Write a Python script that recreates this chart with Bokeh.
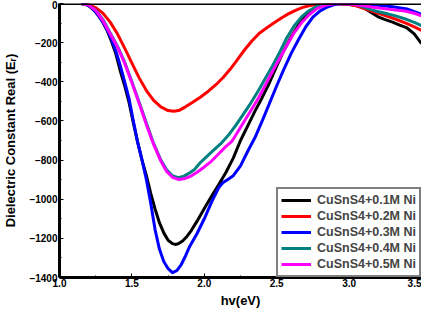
from bokeh.plotting import figure
from bokeh.models import Range1d, Span, Legend, LegendItem, SingleIntervalTicker, NumeralTickFormatter
from bokeh.embed import file_html
from bokeh.resources import INLINE

labels = ["CuSnS4+0.1M Ni", "CuSnS4+0.2M Ni", "CuSnS4+0.3M Ni", "CuSnS4+0.4M Ni", "CuSnS4+0.5M Ni"]
colors = ["#000000", "#ff0000", "#0000ff", "#008080", "#ff00ff"]

x_01 = [1.15, 1.18, 1.21, 1.24, 1.27, 1.30, 1.33, 1.36, 1.39, 1.42, 1.45, 1.48, 1.51, 1.54, 1.57, 1.60, 1.63, 1.66, 1.69, 1.72, 1.75, 1.78, 1.80, 1.82, 1.85, 1.88, 1.91, 1.95, 2.00, 2.05, 2.10, 2.15, 2.20, 2.25, 2.30, 2.35, 2.40, 2.45, 2.50, 2.55, 2.60, 2.65, 2.70, 2.75, 2.80, 2.85, 2.92, 2.98, 3.05, 3.10, 3.15, 3.20, 3.25, 3.30, 3.35, 3.40, 3.45, 3.50]
y_01 = [0, -4, -16, -36, -63, -97, -140, -195, -260, -345, -420, -505, -610, -710, -800, -880, -970, -1050, -1120, -1172, -1210, -1227, -1231, -1228, -1214, -1190, -1160, -1112, -1048, -985, -925, -862, -790, -700, -625, -550, -480, -405, -320, -240, -170, -110, -62, -30, -12, -3, 0, -2, -10, -22, -45, -68, -82, -95, -110, -125, -155, -205]

x_02 = [1.15, 1.20, 1.25, 1.30, 1.35, 1.40, 1.45, 1.50, 1.55, 1.60, 1.65, 1.70, 1.75, 1.79, 1.83, 1.87, 1.92, 1.97, 2.03, 2.08, 2.13, 2.18, 2.23, 2.28, 2.33, 2.38, 2.43, 2.48, 2.53, 2.58, 2.63, 2.68, 2.73, 2.80, 2.90, 3.00, 3.05, 3.10, 3.18, 3.25, 3.32, 3.40, 3.45, 3.50]
y_02 = [0, -5, -22, -50, -95, -155, -228, -305, -380, -445, -495, -528, -547, -551, -545, -528, -505, -480, -447, -415, -378, -335, -285, -235, -190, -152, -125, -100, -75, -53, -35, -20, -10, -3, 0, -5, -12, -25, -45, -62, -80, -103, -120, -137]

x_03 = [1.15, 1.18, 1.21, 1.24, 1.27, 1.30, 1.33, 1.36, 1.39, 1.42, 1.45, 1.48, 1.51, 1.54, 1.57, 1.60, 1.63, 1.66, 1.69, 1.72, 1.75, 1.78, 1.81, 1.84, 1.87, 1.90, 1.95, 2.00, 2.05, 2.10, 2.13, 2.16, 2.20, 2.25, 2.30, 2.35, 2.40, 2.45, 2.50, 2.55, 2.60, 2.65, 2.70, 2.75, 2.80, 2.85, 2.90, 2.95, 3.00, 3.10, 3.20, 3.30, 3.40, 3.50]
y_03 = [0, -4, -15, -35, -62, -95, -135, -185, -245, -318, -400, -485, -600, -710, -800, -900, -1020, -1155, -1255, -1318, -1355, -1375, -1365, -1335, -1290, -1240, -1175, -1100, -1015, -940, -915, -900, -880, -830, -755, -685, -600, -510, -420, -335, -255, -185, -120, -70, -38, -18, -5, 0, -2, -5, -9, -17, -28, -55]

x_04 = [1.15, 1.20, 1.25, 1.30, 1.35, 1.40, 1.45, 1.50, 1.55, 1.60, 1.65, 1.70, 1.74, 1.78, 1.82, 1.86, 1.90, 1.93, 1.97, 2.02, 2.07, 2.12, 2.17, 2.22, 2.27, 2.32, 2.37, 2.42, 2.47, 2.52, 2.57, 2.62, 2.67, 2.72, 2.78, 2.85, 2.90, 3.00, 3.05, 3.10, 3.18, 3.25, 3.32, 3.40, 3.45, 3.50]
y_04 = [0, -8, -33, -82, -150, -218, -300, -400, -505, -610, -715, -800, -850, -880, -890, -882, -865, -850, -815, -780, -745, -712, -670, -620, -565, -510, -450, -385, -320, -250, -175, -115, -70, -38, -13, -2, 0, 0, -5, -18, -38, -50, -63, -82, -96, -113]

x_05 = [1.15, 1.20, 1.25, 1.30, 1.35, 1.40, 1.45, 1.50, 1.55, 1.60, 1.65, 1.70, 1.74, 1.78, 1.82, 1.86, 1.90, 1.95, 2.00, 2.05, 2.10, 2.15, 2.19, 2.24, 2.29, 2.34, 2.38, 2.43, 2.48, 2.53, 2.57, 2.62, 2.67, 2.72, 2.78, 2.85, 2.92, 3.00, 3.10, 3.18, 3.28, 3.385, 3.45, 3.50]
y_05 = [0, -8, -35, -88, -155, -222, -305, -405, -510, -620, -720, -805, -858, -888, -899, -896, -885, -862, -835, -805, -768, -730, -705, -645, -585, -525, -475, -405, -335, -268, -215, -150, -100, -60, -25, -6, 0, -3, -12, -21, -30, -38, -50, -63]

x_ticks_interval = 0.5
y_ticks_interval = 200

xs = [x_01, x_02, x_03, x_04, x_05]
ys = [y_01, y_02, y_03, y_04, y_05]

FONT = "Liberation Sans"

p = figure(width=421, height=310, output_backend="svg", toolbar_location=None,
           x_range=Range1d(1.0, 3.5), y_range=Range1d(-1400, 0),
           min_border_left=59, min_border_right=0, min_border_top=3, min_border_bottom=27)
p.outline_line_color = None
p.grid.visible = False
p.background_fill_color = "white"
p.border_fill_color = "white"

renderers = []
for xv, yv, c in zip(xs, ys, colors):
    r = p.line(xv, yv, line_color=c, line_width=3, line_join="round")
    renderers.append(r)

p.add_layout(Span(location=0, dimension="width", line_color="black", line_width=3))

for ax in (p.xaxis[0], p.yaxis[0]):
    ax.axis_line_width = 3
    ax.axis_line_color = "black"
    ax.major_tick_in = 4
    ax.major_tick_out = 0
    ax.minor_tick_in = 2
    ax.minor_tick_out = 0
    ax.major_tick_line_width = 1
    ax.minor_tick_line_width = 1
    ax.major_label_text_font = FONT
    ax.major_label_text_font_style = "bold"
    ax.major_label_text_font_size = "10px"
    ax.major_label_text_color = "black"
    ax.axis_label_text_font = FONT
    ax.axis_label_text_font_style = "bold"
    ax.axis_label_text_font_size = "13px"
    ax.axis_label_text_color = "black"

p.xaxis.ticker = SingleIntervalTicker(interval=x_ticks_interval, num_minor_ticks=2)
p.yaxis.ticker = SingleIntervalTicker(interval=y_ticks_interval, num_minor_ticks=2)
p.xaxis.formatter = NumeralTickFormatter(format="0.0")
p.xaxis.major_label_standoff = 1
p.yaxis.major_label_standoff = 2
p.xaxis.axis_label = "hv(eV)"
p.yaxis.axis_label = "Dielectric Constant Real (E\u1d63)"
p.xaxis.axis_label_standoff = 3
p.yaxis.axis_label_standoff = 8

legend = Legend(items=[LegendItem(label=l, renderers=[r]) for l, r in zip(labels, renderers)],
                location="bottom_right")
legend.label_text_font = FONT
legend.label_text_font_style = "bold"
legend.label_text_font_size = "12.5px"
legend.glyph_width = 30
legend.glyph_height = 16
legend.label_height = 16
legend.spacing = 0
legend.padding = 3
legend.margin = 0
legend.label_standoff = 6
legend.border_line_color = "black"
legend.border_line_width = 2
legend.background_fill_alpha = 1
p.add_layout(legend)

open("out.html", "w").write(file_html(p, INLINE))
